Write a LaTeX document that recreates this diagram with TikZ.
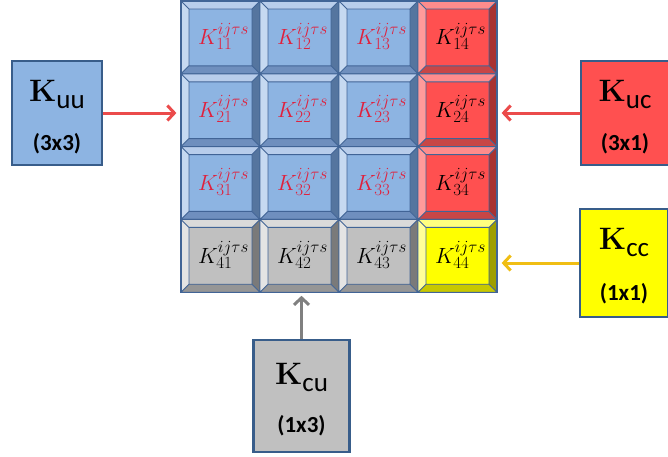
\RequirePackage{fix-cm}
\documentclass[tikz,border=0pt]{standalone}
\usepackage{fontspec}
\setsansfont{Carlito}
\DeclareMathSizes{22}{22}{17}{13}
\usetikzlibrary{arrows.meta}
\definecolor{blueF}{HTML}{8DB4E2}\definecolor{blueT}{HTML}{B8CDEB}\definecolor{blueL}{HTML}{C6D9F1}\definecolor{blueR}{HTML}{55759F}\definecolor{blueB}{HTML}{6F8FBE}
\definecolor{redF}{HTML}{FF5050}\definecolor{redT}{HTML}{FF8C8C}\definecolor{redL}{HTML}{FF9B9B}\definecolor{redR}{HTML}{A83232}\definecolor{redB}{HTML}{C84646}
\definecolor{grayF}{HTML}{C0C0C0}\definecolor{grayT}{HTML}{DADADA}\definecolor{grayL}{HTML}{E4E4E4}\definecolor{grayR}{HTML}{7A7A7A}\definecolor{grayB}{HTML}{969696}
\definecolor{yelF}{HTML}{FFFF00}\definecolor{yelT}{HTML}{FFFF80}\definecolor{yelL}{HTML}{FFFF99}\definecolor{yelR}{HTML}{9E9E00}\definecolor{yelB}{HTML}{C8C800}
\definecolor{lineblue}{HTML}{416496}
\definecolor{boxborder}{HTML}{385D8A}
\definecolor{labred}{HTML}{E0203C}
\definecolor{arrred}{HTML}{EB4B4B}
\definecolor{arryel}{HTML}{F0BE14}
\definecolor{arrgray}{HTML}{808080}
\newcommand\bcell[4]{%
 \pgfmathsetmacro\xa{181+(#1-1)*79}%
 \pgfmathsetmacro\xb{\xa+79}%
 \pgfmathsetmacro\ya{1+(#2-1)*72.8}%
 \pgfmathsetmacro\yb{\ya+72.8}%
 \pgfmathsetmacro\xc{\xa+8}%
 \pgfmathsetmacro\xd{\xb-8}%
 \pgfmathsetmacro\yc{\ya+8}%
 \pgfmathsetmacro\yd{\yb-8}%
 \fill[#3T] (\xa,\ya) -- (\xb,\ya) -- (\xd,\yc) -- (\xc,\yc) -- cycle;
 \fill[#3L] (\xa,\ya) -- (\xc,\yc) -- (\xc,\yd) -- (\xa,\yb) -- cycle;
 \fill[#3R] (\xb,\ya) -- (\xb,\yb) -- (\xd,\yd) -- (\xd,\yc) -- cycle;
 \fill[#3B] (\xa,\yb) -- (\xb,\yb) -- (\xd,\yd) -- (\xc,\yd) -- cycle;
 \fill[#3F] (\xc,\yc) rectangle (\xd,\yd);
 \draw[cellline] (\xa,\ya) rectangle (\xb,\yb) (\xc,\yc) rectangle (\xd,\yd)
   (\xa,\ya) -- (\xc,\yc) (\xb,\ya) -- (\xd,\yc) (\xa,\yb) -- (\xc,\yd) (\xb,\yb) -- (\xd,\yd);
 \node[celltext,text=#4] (c#2#1) at ({(\xa+\xb)/2+3},{(\ya+\yb)/2-1}) {$K^{ij\tau s}_{#2#1}$};
}
\tikzset{
 cellline/.style={draw=lineblue,line width=0.9pt},
 celltext/.style={inner sep=0pt,font=\fontsize{22}{22}\selectfont},
 mbox/.style={draw=boxborder,line width=2.6pt,minimum width=#1,minimum height=104pt,inner sep=0pt},
 mbox/.default=90pt,
 ktext/.style={inner sep=0pt,anchor=base},
 dimtext/.style={inner sep=0pt,font=\sffamily\bfseries\fontsize{23}{23}\selectfont},
 conn/.style={line width=3pt,-{Straight Barb[length=7pt,width=15pt,line width=3pt]}},
}
\newcommand\kname[1]{{\fontsize{31}{31}\selectfont\bfseries K}{\sffamily\fontsize{27}{27}\selectfont\raisebox{-7pt}{#1}}}
\begin{document}
\begin{tikzpicture}[x=1pt,y=-1pt]
\useasboundingbox (0,0) rectangle (668,456);
\foreach \r in {1,2,3}{\foreach \c in {1,2,3}{\bcell{\c}{\r}{blue}{labred}}}
\foreach \r in {1,2,3}{\bcell{4}{\r}{red}{black}}
\foreach \c in {1,2,3}{\bcell{\c}{4}{gray}{black}}
\bcell{4}{4}{yel}{black}
\node[draw=lineblue,line width=1.2pt,minimum width=316pt,minimum height=291.2pt,inner sep=0pt] (grid) at (339,146.6) {};
% boxes
\node[mbox,fill=blueF] (kuu) at (57,113) {};
\node[mbox=88pt,fill=redF] (kuc) at (625,113) {};
\node[mbox=88pt,fill=yelF,minimum height=108pt] (kcc) at (624,263) {};
\node[mbox=96pt,fill=grayF,minimum height=112pt] (kcu) at (301.5,396) {};
% labels
\node[ktext] (kuuk) at ([yshift=-42pt]kuu.north) {\kname{uu}};
\node[dimtext] (kuud) at ([yshift=-84pt]kuu.north) {(3x3)};
\node[ktext] (kuck) at ([yshift=-42pt]kuc.north) {\kname{uc}};
\node[dimtext] (kucd) at ([yshift=-84pt]kuc.north) {(3x1)};
\node[ktext] (kcck) at ([yshift=-42pt]kcc.north) {\kname{cc}};
\node[dimtext] (kccd) at ([yshift=-86pt]kcc.north) {(1x1)};
\node[ktext] (kcuk) at ([yshift=-46pt]kcu.north) {\kname{cu}};
\node[dimtext] (kcud) at ([yshift=-87pt]kcu.north) {(1x3)};
% connectors
\draw[conn,draw=arrred,shorten >=4pt] (kuu.east) -- (kuu.east -| grid.west);
\draw[conn,draw=arrred,shorten >=4pt] (kuc.west) -- (kuc.west -| grid.east);
\draw[conn,draw=arryel,shorten >=4pt] (kcc.west) -- (kcc.west -| grid.east);
\draw[conn,draw=arrgray,shorten >=3pt] (kcu.north) -- (kcu.north |- grid.south);
\end{tikzpicture}
\end{document}
